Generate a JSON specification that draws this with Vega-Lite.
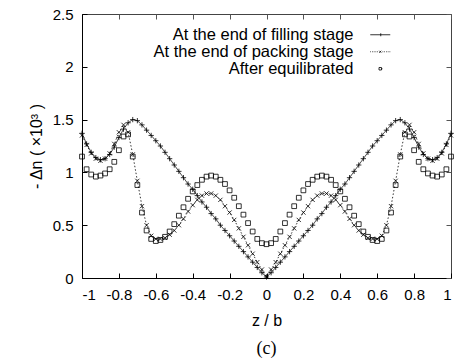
{
  "$schema": "https://vega.github.io/schema/vega-lite/v6.json",
  "width": 369,
  "height": 264,
  "autosize": "none",
  "padding": {"left": 82, "top": 14, "right": 3, "bottom": 83},
  "background": "white",
  "data": {"values": [
    {"z": -1.000, "f": 1.37, "p": 1.35, "e": 1.15},
    {"z": -0.975, "f": 1.27, "p": 1.26, "e": 1.03},
    {"z": -0.950, "f": 1.19, "p": 1.18, "e": 0.98},
    {"z": -0.925, "f": 1.14, "p": 1.13, "e": 0.96},
    {"z": -0.900, "f": 1.12, "p": 1.11, "e": 0.97},
    {"z": -0.875, "f": 1.13, "p": 1.13, "e": 0.99},
    {"z": -0.850, "f": 1.17, "p": 1.18, "e": 1.03},
    {"z": -0.825, "f": 1.24, "p": 1.27, "e": 1.10},
    {"z": -0.800, "f": 1.33, "p": 1.38, "e": 1.21},
    {"z": -0.775, "f": 1.41, "p": 1.45, "e": 1.34},
    {"z": -0.750, "f": 1.47, "p": 1.38, "e": 1.36},
    {"z": -0.725, "f": 1.50, "p": 1.17, "e": 1.15},
    {"z": -0.700, "f": 1.49, "p": 0.92, "e": 0.88},
    {"z": -0.675, "f": 1.45, "p": 0.68, "e": 0.62},
    {"z": -0.650, "f": 1.40, "p": 0.50, "e": 0.45},
    {"z": -0.625, "f": 1.35, "p": 0.40, "e": 0.37},
    {"z": -0.600, "f": 1.30, "p": 0.37, "e": 0.35},
    {"z": -0.575, "f": 1.25, "p": 0.37, "e": 0.36},
    {"z": -0.550, "f": 1.19, "p": 0.38, "e": 0.39},
    {"z": -0.525, "f": 1.13, "p": 0.41, "e": 0.44},
    {"z": -0.500, "f": 1.07, "p": 0.45, "e": 0.51},
    {"z": -0.475, "f": 1.01, "p": 0.50, "e": 0.59},
    {"z": -0.450, "f": 0.95, "p": 0.56, "e": 0.67},
    {"z": -0.425, "f": 0.89, "p": 0.63, "e": 0.75},
    {"z": -0.400, "f": 0.84, "p": 0.69, "e": 0.82},
    {"z": -0.375, "f": 0.78, "p": 0.74, "e": 0.88},
    {"z": -0.350, "f": 0.72, "p": 0.78, "e": 0.93},
    {"z": -0.325, "f": 0.67, "p": 0.80, "e": 0.96},
    {"z": -0.300, "f": 0.61, "p": 0.80, "e": 0.97},
    {"z": -0.275, "f": 0.56, "p": 0.78, "e": 0.96},
    {"z": -0.250, "f": 0.50, "p": 0.74, "e": 0.93},
    {"z": -0.225, "f": 0.45, "p": 0.68, "e": 0.89},
    {"z": -0.200, "f": 0.40, "p": 0.62, "e": 0.83},
    {"z": -0.175, "f": 0.35, "p": 0.55, "e": 0.76},
    {"z": -0.150, "f": 0.30, "p": 0.47, "e": 0.68},
    {"z": -0.125, "f": 0.25, "p": 0.39, "e": 0.60},
    {"z": -0.100, "f": 0.20, "p": 0.31, "e": 0.52},
    {"z": -0.075, "f": 0.15, "p": 0.23, "e": 0.44},
    {"z": -0.050, "f": 0.10, "p": 0.15, "e": 0.37},
    {"z": -0.025, "f": 0.05, "p": 0.08, "e": 0.33},
    {"z": 0.000, "f": 0.01, "p": 0.01, "e": 0.32},
    {"z": 0.025, "f": 0.05, "p": 0.08, "e": 0.33},
    {"z": 0.050, "f": 0.10, "p": 0.15, "e": 0.37},
    {"z": 0.075, "f": 0.15, "p": 0.23, "e": 0.44},
    {"z": 0.100, "f": 0.20, "p": 0.31, "e": 0.52},
    {"z": 0.125, "f": 0.25, "p": 0.39, "e": 0.60},
    {"z": 0.150, "f": 0.30, "p": 0.47, "e": 0.68},
    {"z": 0.175, "f": 0.35, "p": 0.55, "e": 0.76},
    {"z": 0.200, "f": 0.40, "p": 0.62, "e": 0.83},
    {"z": 0.225, "f": 0.45, "p": 0.68, "e": 0.89},
    {"z": 0.250, "f": 0.50, "p": 0.74, "e": 0.93},
    {"z": 0.275, "f": 0.56, "p": 0.78, "e": 0.96},
    {"z": 0.300, "f": 0.61, "p": 0.80, "e": 0.97},
    {"z": 0.325, "f": 0.67, "p": 0.80, "e": 0.96},
    {"z": 0.350, "f": 0.72, "p": 0.78, "e": 0.93},
    {"z": 0.375, "f": 0.78, "p": 0.74, "e": 0.88},
    {"z": 0.400, "f": 0.84, "p": 0.69, "e": 0.82},
    {"z": 0.425, "f": 0.89, "p": 0.63, "e": 0.75},
    {"z": 0.450, "f": 0.95, "p": 0.56, "e": 0.67},
    {"z": 0.475, "f": 1.01, "p": 0.50, "e": 0.59},
    {"z": 0.500, "f": 1.07, "p": 0.45, "e": 0.51},
    {"z": 0.525, "f": 1.13, "p": 0.41, "e": 0.44},
    {"z": 0.550, "f": 1.19, "p": 0.38, "e": 0.39},
    {"z": 0.575, "f": 1.25, "p": 0.37, "e": 0.36},
    {"z": 0.600, "f": 1.30, "p": 0.37, "e": 0.35},
    {"z": 0.625, "f": 1.35, "p": 0.40, "e": 0.37},
    {"z": 0.650, "f": 1.40, "p": 0.50, "e": 0.45},
    {"z": 0.675, "f": 1.45, "p": 0.68, "e": 0.62},
    {"z": 0.700, "f": 1.49, "p": 0.92, "e": 0.88},
    {"z": 0.725, "f": 1.50, "p": 1.17, "e": 1.15},
    {"z": 0.750, "f": 1.47, "p": 1.38, "e": 1.36},
    {"z": 0.775, "f": 1.41, "p": 1.45, "e": 1.34},
    {"z": 0.800, "f": 1.33, "p": 1.38, "e": 1.21},
    {"z": 0.825, "f": 1.24, "p": 1.27, "e": 1.10},
    {"z": 0.850, "f": 1.17, "p": 1.18, "e": 1.03},
    {"z": 0.875, "f": 1.13, "p": 1.13, "e": 0.99},
    {"z": 0.900, "f": 1.12, "p": 1.11, "e": 0.97},
    {"z": 0.925, "f": 1.14, "p": 1.13, "e": 0.96},
    {"z": 0.950, "f": 1.19, "p": 1.18, "e": 0.98},
    {"z": 0.975, "f": 1.27, "p": 1.26, "e": 1.03},
    {"z": 1.000, "f": 1.37, "p": 1.35, "e": 1.15}
  ]},
  "transform": [{"fold": ["f", "p", "e"], "as": ["series", "v"]}],
  "title": {"text": "(c)", "orient": "bottom", "font": "Liberation Serif", "fontSize": 18, "fontWeight": "normal", "color": "black", "offset": 12},
  "resolve": {"scale": {"shape": "independent"}},
  "config": {
    "font": "Liberation Sans",
    "view": {"stroke": "#444", "strokeWidth": 1},
    "axis": {
      "grid": false,
      "domainColor": "black",
      "domainWidth": 1,
      "tickColor": "black",
      "tickWidth": 1,
      "tickSize": -5,
      "labelColor": "black",
      "labelFont": "Liberation Sans",
      "labelFontSize": 15,
      "titleColor": "black",
      "titleFont": "Liberation Sans",
      "titleFontSize": 16,
      "titleFontWeight": "normal"
    }
  },
  "layer": [
    {
      "transform": [{"filter": "datum.series != 'e'"}],
      "mark": {"type": "line", "color": "black", "strokeWidth": 0.8},
      "encoding": {
        "x": {"field": "z", "type": "quantitative", "scale": {"domain": [-1, 1], "nice": false},
              "axis": {"orient": "bottom", "values": [-1, -0.8, -0.6, -0.4, -0.2, 0, 0.2, 0.4, 0.6, 0.8, 1], "labelExpr": "'' + datum.value", "labelPadding": 14, "title": "z / b", "titlePadding": 10}},
        "y": {"field": "v", "type": "quantitative", "scale": {"domain": [0, 2.5], "nice": false},
              "axis": {"orient": "left", "values": [0, 0.5, 1, 1.5, 2, 2.5], "labelExpr": "'' + datum.value", "labelPadding": 14, "title": "- Δn ( ×10³ )", "titlePadding": 8}},
        "strokeDash": {"field": "series", "type": "nominal", "scale": {"domain": ["f", "p"], "range": [[1, 0], [1.5, 2]]}, "legend": null}
      }
    },
    {
      "mark": {"type": "point", "filled": false, "color": "black", "strokeWidth": 0.8, "size": 28, "opacity": 1},
      "encoding": {
        "x": {"field": "z", "type": "quantitative", "axis": null},
        "y": {"field": "v", "type": "quantitative", "axis": null},
        "shape": {
          "field": "series", "type": "nominal",
          "scale": {"domain": ["f", "p", "e"], "range": ["M-1,0L1,0M0,-1L0,1", "M-0.8,-0.8L0.8,0.8M-0.8,0.8L0.8,-0.8", "M-0.9,-0.9L0.9,-0.9L0.9,0.9L-0.9,0.9Z"]},
          "legend": null
        }
      }
    },
    {
      "transform": [{"filter": "datum.series == 'none'"}],
      "mark": {"type": "point", "filled": false, "color": "black", "strokeWidth": 0.8, "opacity": 1},
      "encoding": {
        "x": {"field": "z", "type": "quantitative", "axis": null},
        "y": {"field": "v", "type": "quantitative", "axis": null},
        "shape": {
          "field": "series", "type": "nominal",
          "scale": {"domain": ["f", "p", "e"], "range": [
            "M-2,0L2,0M0.1,-0.3L0.1,0.3",
            "M-2,0L-1.85,0M-1.65,0L-1.5,0M-1.3,0L-1.15,0M-0.95,0L-0.8,0M-0.6,0L-0.45,0M0.45,0L0.6,0M0.8,0L0.95,0M1.15,0L1.3,0M1.5,0L1.65,0M1.85,0L2,0M-0.2,-0.2L0.2,0.2M-0.2,0.2L0.2,-0.2",
            "M-0.25,-0.25L0.25,-0.25L0.25,0.25L-0.25,0.25ZM0.25,0L0.45,0"
          ]},
          "legend": {
            "orient": "none", "legendX": 290, "legendY": 12.5,
            "title": null, "padding": 0, "rowPadding": 0,
            "labelFont": "Liberation Sans", "labelFontSize": 16.5, "labelColor": "black", "labelLimit": 0,
            "labelAlign": "right", "labelOffset": -35,
            "symbolSize": 100, "symbolStrokeWidth": 0.8, "symbolStrokeColor": "black",
            "labelExpr": "datum.value == 'f' ? 'At the end of filling stage' : datum.value == 'p' ? 'At the end of packing stage' : 'After equilibrated'"
          }
        }
      }
    },
    {
      "mark": {"type": "point", "opacity": 0},
      "encoding": {
        "x": {"field": "z", "type": "quantitative",
              "axis": {"orient": "top", "values": [-1, -0.8, -0.6, -0.4, -0.2, 0, 0.2, 0.4, 0.6, 0.8, 1], "labels": false, "domain": false, "title": null, "tickColor": "#555"}},
        "y": {"field": "v", "type": "quantitative",
              "axis": {"orient": "right", "values": [0, 0.5, 1, 1.5, 2, 2.5], "labels": false, "domain": false, "title": null, "tickColor": "#555"}}
      }
    }
  ]
}
